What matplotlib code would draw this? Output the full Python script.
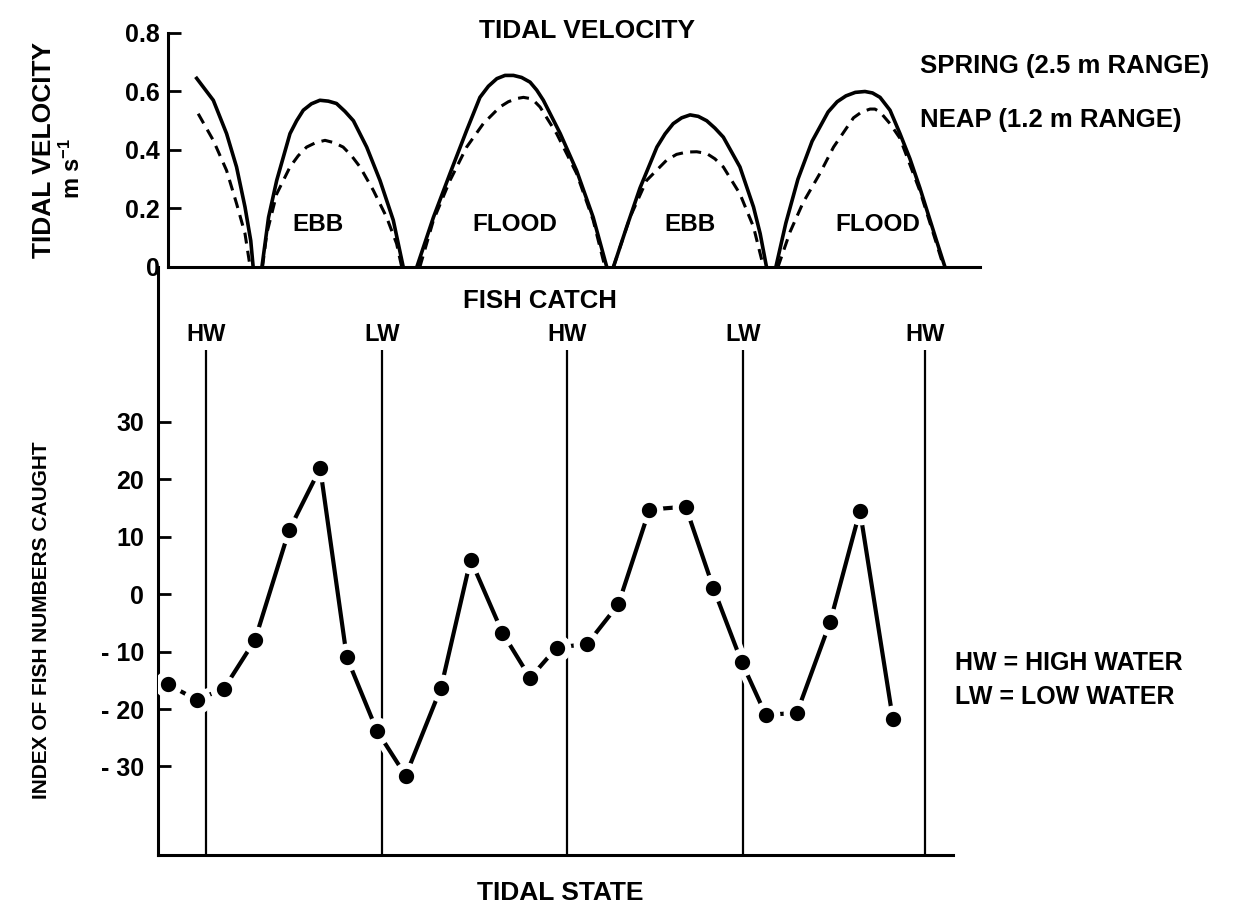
import matplotlib
matplotlib.use("Agg")
import matplotlib.pyplot as plt
from matplotlib import patheffects as pe

plt.rcParams['font.family'] = ['Liberation Sans', 'DejaVu Sans']
plt.rcParams['font.weight'] = 'bold'
plt.rcParams['mathtext.fontset'] = 'custom'
plt.rcParams['mathtext.bf'] = 'Liberation Sans:bold'
plt.rcParams['mathtext.rm'] = 'Liberation Sans:bold'
plt.rcParams['mathtext.default'] = 'bf'

# x is tidal state, one unit per catch sample
# spring tide velocity (m/s), one arch per half cycle
spring_0_x = [0.96, 1.51, 1.95, 2.28, 2.56, 2.75, 2.83]
spring_0_v = [0.645, 0.57, 0.456, 0.342, 0.205, 0.09, 0.0]
spring_1_x = [3.12, 3.34, 3.61, 4.05, 4.27, 4.49, 4.76, 5.04, 5.32, 5.59, 5.87, 6.15, 6.59, 7.03, 7.47, 7.80]
spring_1_v = [0.0, 0.17, 0.296, 0.456, 0.50, 0.536, 0.558, 0.57, 0.567, 0.559, 0.532, 0.50, 0.41, 0.296, 0.16, 0.0]
spring_2_x = [8.25, 8.80, 9.35, 9.90, 10.34, 10.62, 10.90, 11.17, 11.45, 11.72, 12.0, 12.22, 12.44, 13.0,
              13.54, 14.09, 14.54]
spring_2_v = [0.0, 0.17, 0.32, 0.467, 0.58, 0.618, 0.644, 0.655, 0.655, 0.648, 0.632, 0.605, 0.57, 0.456,
              0.33, 0.17, 0.0]
spring_3_x = [14.76, 15.20, 15.64, 16.20, 16.47, 16.74, 17.02, 17.30, 17.57, 17.85, 18.12, 18.40, 18.95,
              19.40, 19.62, 19.83]
spring_3_v = [0.0, 0.137, 0.27, 0.41, 0.455, 0.49, 0.51, 0.52, 0.515, 0.50, 0.475, 0.444, 0.342,
              0.205, 0.114, 0.0]
spring_4_x = [20.14, 20.47, 20.87, 21.34, 21.87, 22.17, 22.46, 22.77, 23.09, 23.34, 23.59, 23.92, 24.25,
              24.58, 24.91, 25.46, 25.74]
spring_4_v = [0.0, 0.15, 0.30, 0.43, 0.53, 0.565, 0.585, 0.597, 0.60, 0.595, 0.58, 0.536, 0.456,
              0.37, 0.27, 0.09, 0.0]

# neap tide velocity (m/s)
neap_0_x = [1.01, 1.51, 1.95, 2.28, 2.56, 2.73]
neap_0_v = [0.524, 0.433, 0.33, 0.217, 0.114, 0.0]
neap_1_x = [3.14, 3.28, 3.61, 4.05, 4.32, 4.60, 4.90, 5.21, 5.51, 5.81, 6.09, 6.37, 6.81, 7.25, 7.58, 7.75]
neap_1_v = [0.0, 0.114, 0.25, 0.342, 0.38, 0.41, 0.425, 0.433, 0.425, 0.41, 0.38, 0.342, 0.262, 0.17,
            0.08, 0.0]
neap_2_x = [8.35, 8.80, 9.35, 9.90, 10.45, 11.0, 11.28, 11.56, 11.78, 12.0, 12.16, 12.33, 12.88, 13.54,
            14.09, 14.48]
neap_2_v = [0.0, 0.16, 0.296, 0.41, 0.49, 0.547, 0.565, 0.576, 0.58, 0.576, 0.565, 0.547, 0.456, 0.32,
            0.16, 0.0]
neap_3_x = [14.76, 15.31, 15.86, 16.52, 16.85, 17.19, 17.52, 17.85, 18.12, 18.40, 18.95, 19.40, 19.73]
neap_3_v = [0.0, 0.17, 0.296, 0.365, 0.385, 0.393, 0.394, 0.388, 0.37, 0.342, 0.25, 0.137, 0.0]
neap_4_x = [20.21, 20.61, 21.04, 21.6, 22.05, 22.71, 22.98, 23.26, 23.42, 23.59, 23.92, 24.25, 24.91,
            25.46, 25.70]
neap_4_v = [0.0, 0.12, 0.22, 0.32, 0.41, 0.51, 0.53, 0.54, 0.54, 0.53, 0.49, 0.44, 0.26, 0.08, 0.0]

phase_x = [4.99, 11.5, 17.3, 23.52]
phase_labels = ['EBB', 'FLOOD', 'EBB', 'FLOOD']

# fish catch index
catch_x = [0.0, 0.96, 1.86, 2.89, 4.02, 5.05, 5.93, 6.93, 7.88, 9.05, 10.03, 11.08, 12.0,
           12.88, 13.89, 14.92, 15.95, 17.15, 18.07, 19.0, 19.8, 20.83, 21.93, 22.92, 24.01]
catch_index = [-15.7, -18.4, -16.5, -8.0, 11.1, 21.9, -11.0, -23.8, -31.6, -16.3, 6.0, -6.7, -14.6,
               -9.3, -8.7, -1.8, 14.7, 15.2, 1.0, -11.8, -21.0, -20.7, -4.9, 14.5, -21.8]

water_x = [1.28, 7.10, 13.22, 19.05, 25.08]
water_labels = ['HW', 'LW', 'HW', 'LW', 'HW']

vel_ticks = [0, 0.2, 0.4, 0.6, 0.8]
vel_ticklabels = ['0', '0.2', '0.4', '0.6', '0.8']
catch_ticks = [30, 20, 10, 0, -10, -20, -30]
catch_ticklabels = ['30', '20', '10', '0', '- 10', '- 20', '- 30']

W, H = 1238, 915
fig = plt.figure(figsize=(W / 100, H / 100), dpi=100)


def box(left, top, right, bottom):
    return [left / W, 1 - bottom / H, (right - left) / W, (bottom - top) / H]


ax_v = fig.add_axes(box(168, 33, 980, 267))
ax_c = fig.add_axes(box(158, 267, 953, 855))

# ---- tidal velocity
spring_arches = [(spring_0_x, spring_0_v), (spring_1_x, spring_1_v), (spring_2_x, spring_2_v),
                 (spring_3_x, spring_3_v), (spring_4_x, spring_4_v)]
neap_arches = [(neap_0_x, neap_0_v), (neap_1_x, neap_1_v), (neap_2_x, neap_2_v),
               (neap_3_x, neap_3_v), (neap_4_x, neap_4_v)]
for xs, vs in neap_arches:
    ax_v.plot(xs, vs, color='black', lw=2.2, ls=(0, (3.6, 2.4)), solid_capstyle='round')
for xs, vs in spring_arches:
    ax_v.plot(xs, vs, color='black', lw=2.6, solid_joinstyle='round')

for px, lab in zip(phase_x, phase_labels):
    ax_v.text(px, 0.145, lab, ha='center', va='center', fontsize=17.5)

ax_v.set_xlim(0.01, 26.9)
ax_v.set_ylim(0, 0.8)
ax_v.set_yticks(vel_ticks)
ax_v.set_yticklabels(vel_ticklabels)
ax_v.set_xticks([])
for s in ['top', 'right']:
    ax_v.spines[s].set_visible(False)
for s in ['left', 'bottom']:
    ax_v.spines[s].set_linewidth(2.2)
ax_v.tick_params(axis='y', direction='in', length=9, width=2, labelsize=18, pad=6)
ax_v.patch.set_alpha(0)

# ---- fish catch
ax_c.vlines(water_x, -46, 42.4, color='black', lw=1.6, zorder=2)
for px, lab in zip(water_x, water_labels):
    ax_c.text(px, 45.2, lab, ha='center', va='center', fontsize=17)

ax_c.plot(catch_x, catch_index, color='black', lw=3.0, zorder=3,
          path_effects=[pe.Stroke(linewidth=10, foreground='white'), pe.Normal()])
ax_c.plot(catch_x, catch_index, ls='none', marker='o', ms=15.5, mfc='black',
          mec='white', mew=4.5, zorder=4)

ax_c.text(12.33, 51.0, 'FISH CATCH', ha='center', va='center', fontsize=18.5)

ax_c.set_xlim(-0.32, 26.0)
ax_c.set_ylim(-45.4, 56.9)
ax_c.set_yticks(catch_ticks)
ax_c.set_yticklabels(catch_ticklabels)
ax_c.set_xticks([])
for s in ['top', 'right']:
    ax_c.spines[s].set_visible(False)
for s in ['left', 'bottom']:
    ax_c.spines[s].set_linewidth(2.2)
ax_c.tick_params(axis='y', direction='in', length=9, width=2, labelsize=18, pad=10)
ax_c.patch.set_alpha(0)

# ---- titles and axis labels
fig.text(587 / W, 1 - 31 / H, 'TIDAL VELOCITY', ha='center', va='center', fontsize=19)
fig.text(560 / W, 1 - 893 / H, 'TIDAL STATE', ha='center', va='center', fontsize=19)
fig.text(44 / W, 1 - 150 / H, 'TIDAL VELOCITY', ha='center', va='center',
         rotation=90, fontsize=19)
fig.text(72 / W, 1 - 168 / H, r'm s$^{-1}$', ha='center', va='center',
         rotation=90, fontsize=17)
fig.text(42 / W, 1 - 620 / H, 'INDEX OF FISH NUMBERS CAUGHT', ha='center', va='center',
         rotation=90, fontsize=15, fontweight='bold')

fig.text(920 / W, 1 - 66 / H, 'SPRING (2.5 m RANGE)', ha='left', va='center', fontsize=18.5)
fig.text(920 / W, 1 - 120 / H, 'NEAP (1.2 m RANGE)', ha='left', va='center', fontsize=18.5)
fig.text(955 / W, 1 - 663 / H, 'HW = HIGH WATER', ha='left', va='center', fontsize=18)
fig.text(955 / W, 1 - 697 / H, 'LW = LOW WATER', ha='left', va='center', fontsize=18)

fig.savefig('out.png', dpi=100)
